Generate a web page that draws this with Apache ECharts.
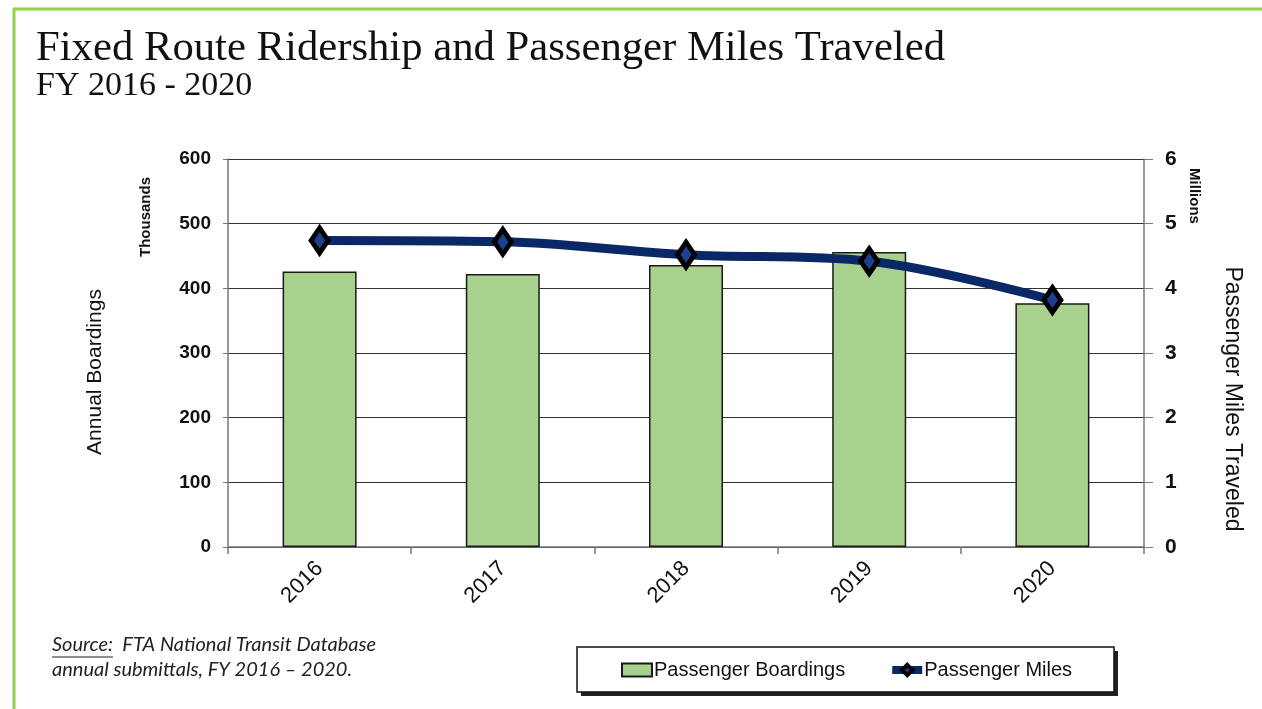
<!DOCTYPE html>
<html>
<head>
<meta charset="utf-8">
<script src="https://cdn.jsdelivr.net/npm/echarts@6/dist/echarts.min.js"></script>
<style>
  html, body { margin: 0; padding: 0; background: #fff; }
  #chart { width: 1262px; height: 709px; }
</style>
</head>
<body>
<div id="chart"></div>
<script>
// fiscal years
const years = ['2016', '2017', '2018', '2019', '2020']
// annual boardings, thousands
const boardings = [426, 422, 436, 456, 377]
// passenger miles, millions
const passengerMiles = [4.74, 4.72, 4.52, 4.42, 3.82]
const leftTicks = [0, 100, 600]   // min / interval / max
const rightTicks = [0, 1, 6]

const sans = 'Liberation Sans'
const serif = 'Liberation Serif'
const green = '#92d050'
const navy = '#0b2866'

const chart = echarts.init(document.getElementById('chart'))

chart.setOption({
  backgroundColor: '#fff',
  animation: false,
  grid: {
    left: 228,
    right: 118,
    top: 159,
    bottom: 162
  },
  legend: {
    left: 616,
    top: 655,
    itemWidth: 30,
    itemHeight: 13,
    itemGap: 43,
    textStyle: { fontFamily: sans, fontSize: 20, color: '#111', padding: [0, 0, 0, -3] },
    data: [
      { name: 'Passenger Boardings', icon: 'rect' },
      {
        name: 'Passenger Miles',
        lineStyle: { width: 8, color: navy },
        itemStyle: { color: '#1d3f8f', borderColor: '#000', borderWidth: 4 }
      }
    ]
  },
  xAxis: {
    type: 'category',
    data: years,
    axisLine: { lineStyle: { color: '#777', width: 1.5 } },
    axisTick: { show: true, length: 7, lineStyle: { color: '#777', width: 1.5 } },
    axisLabel: {
      rotate: 45,
      margin: 18,
      fontFamily: sans,
      fontSize: 22,
      color: '#111'
    }
  },
  yAxis: [{
    type: 'value',
    min: leftTicks[0],
    interval: leftTicks[1],
    max: leftTicks[2],
    axisLine: { show: true, lineStyle: { color: '#777', width: 1.5 } },
    axisTick: { show: true, length: 5, lineStyle: { color: '#777' } },
    axisLabel: { margin: 17, fontFamily: sans, fontSize: 19, fontWeight: 'bold', color: '#111' },
    splitLine: { lineStyle: { color: '#333', width: 1 } }
  }, {
    type: 'value',
    min: rightTicks[0],
    interval: rightTicks[1],
    max: rightTicks[2],
    axisLine: { show: true, lineStyle: { color: '#777', width: 1.5 } },
    axisTick: { show: true, length: 9, lineStyle: { color: '#777' } },
    axisLabel: { margin: 21, fontFamily: sans, fontSize: 21, fontWeight: 'bold', color: '#111' },
    splitLine: { show: false }
  }],
  series: [{
    name: 'Passenger Boardings',
    type: 'bar',
    data: boardings,
    barWidth: 74,
    itemStyle: { color: '#a9d18e', borderColor: '#1a1a1a', borderWidth: 1.5 }
  }, {
    name: 'Passenger Miles',
    type: 'line',
    yAxisIndex: 1,
    data: passengerMiles,
    smooth: 0.35,
    symbol: 'diamond',
    symbolSize: [17, 25],
    lineStyle: { color: navy, width: 9 },
    itemStyle: { color: '#1d3f8f', borderColor: '#000', borderWidth: 5 },
    z: 5
  }],
  graphic: [
    // green frame
    { type: 'line', shape: { x1: 13, y1: 9, x2: 1262, y2: 9 }, style: { stroke: green, lineWidth: 3 } },
    { type: 'line', shape: { x1: 14, y1: 8, x2: 14, y2: 709 }, style: { stroke: green, lineWidth: 3 } },
    // titles
    {
      type: 'text', x: 36, y: 49,
      style: { text: 'Fixed Route Ridership and Passenger Miles Traveled', fontFamily: serif, fontSize: 42.7, fill: '#111', verticalAlign: 'middle' }
    },
    {
      type: 'text', x: 36, y: 86,
      style: { text: 'FY 2016 - 2020', fontFamily: serif, fontSize: 34, fill: '#111', verticalAlign: 'middle' }
    },
    // axis names
    {
      type: 'text', x: 95, y: 372, rotation: Math.PI / 2,
      style: { text: 'Annual Boardings', fontFamily: sans, fontSize: 21, fill: '#111', align: 'center', verticalAlign: 'middle' }
    },
    {
      type: 'text', x: 146, y: 217, rotation: Math.PI / 2,
      style: { text: 'Thousands', fontFamily: sans, fontSize: 15, fontWeight: 'bold', fill: '#111', align: 'center', verticalAlign: 'middle' }
    },
    {
      type: 'text', x: 1194, y: 196, rotation: -Math.PI / 2,
      style: { text: 'Millions', fontFamily: sans, fontSize: 15, fontWeight: 'bold', fill: '#111', align: 'center', verticalAlign: 'middle' }
    },
    {
      type: 'text', x: 1232, y: 399, rotation: -Math.PI / 2,
      style: { text: 'Passenger Miles Traveled', fontFamily: sans, fontSize: 23, fill: '#111', align: 'center', verticalAlign: 'middle' }
    },
    // legend frame: drop shadow, then the box
    {
      type: 'rect', z: -2,
      shape: { x: 581, y: 651, width: 537, height: 45 },
      style: { fill: '#222' }
    },
    {
      type: 'rect', z: -1,
      shape: { x: 577, y: 647, width: 537, height: 45 },
      style: { fill: '#fff', stroke: '#111', lineWidth: 1.5 }
    },
    // source note
    {
      type: 'text', x: 52, y: 645,
      style: { text: 'Source:  FTA National Transit Database', fontFamily: 'Lato', fontStyle: 'italic', fontSize: 20, fill: '#222', verticalAlign: 'middle' }
    },
    {
      type: 'text', x: 52, y: 670,
      style: { text: 'annual submittals, FY 2016 \u2013 2020.', fontFamily: 'Lato', fontStyle: 'italic', fontSize: 20, fill: '#222', verticalAlign: 'middle' }
    },
    { type: 'line', shape: { x1: 52, y1: 657, x2: 113, y2: 657 }, style: { stroke: '#222', lineWidth: 1.2 } }
  ]
})
</script>
</body>
</html>
